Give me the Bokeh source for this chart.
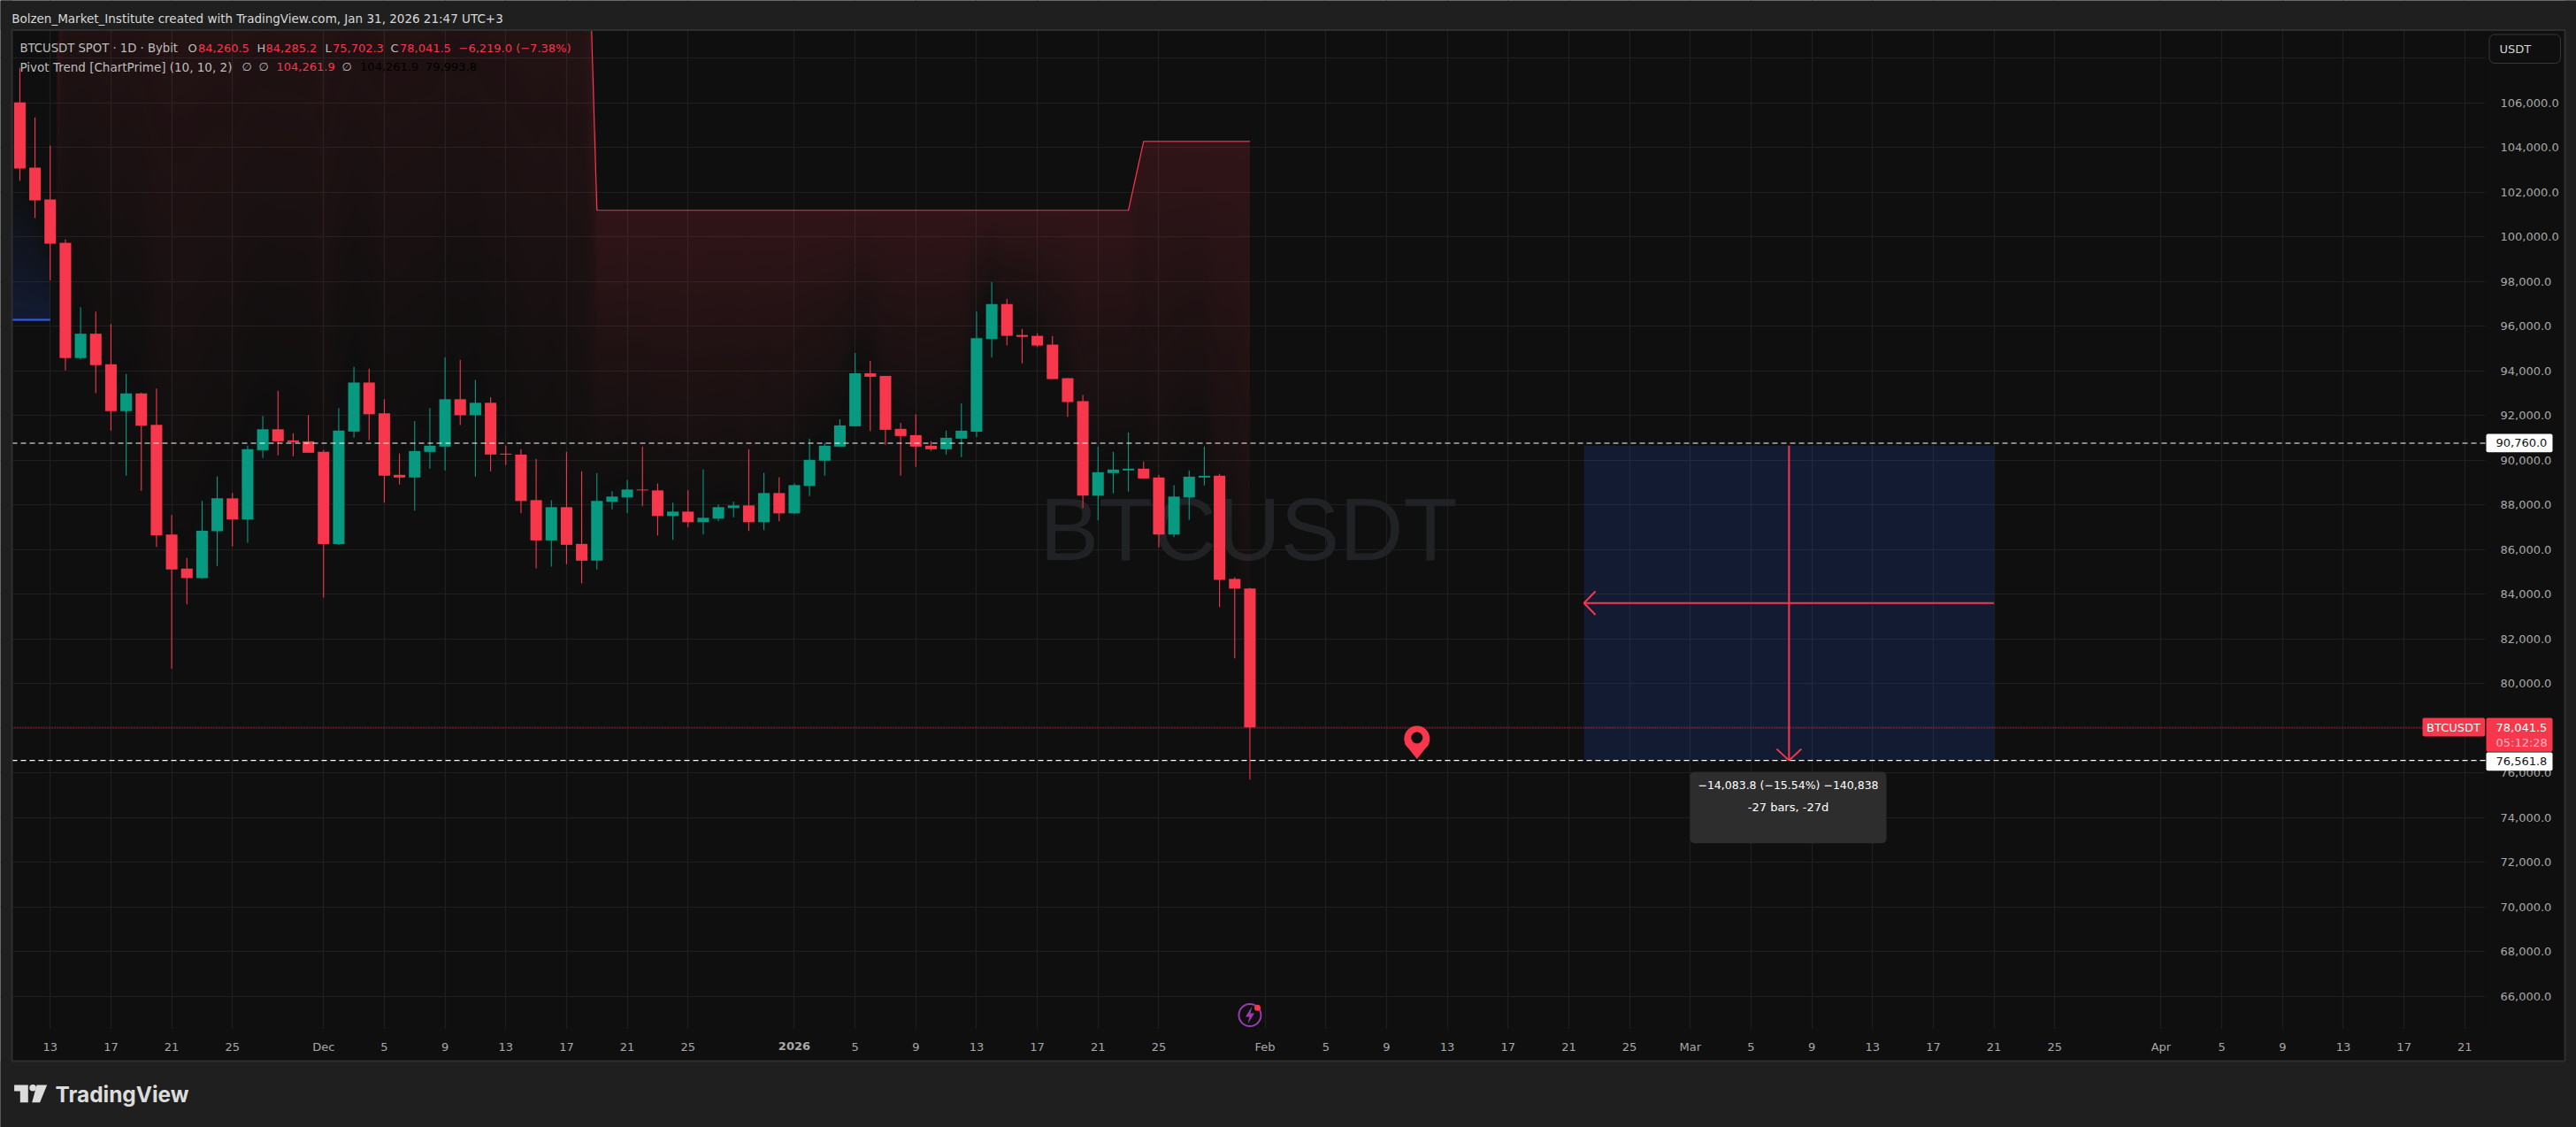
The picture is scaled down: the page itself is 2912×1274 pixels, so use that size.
import numpy as np
from bokeh.embed import file_html
from bokeh.resources import INLINE
from bokeh.plotting import figure
from bokeh.models import (Range1d, FixedTicker, NumeralTickFormatter, Label, BoxAnnotation,
                          PolyAnnotation, ColumnDataSource, LinearAxis)

# ---------- data ----------
first_day = -2   # day index of the first candle, 0 = Nov 13
opens = [106013,103087,101664,99726,94567,95657,94290,92194,92985,91578,86670,85143,84725,86817,88290,87342,90448,91381,90883,90843,
         90369,86250,91278,93473,92092,89341,89222,90369,90606,92725,92013,92566,90290,90250,88210,86408,87895,86250,85500,88132,
         88330,88685,88646,87499,87697,87222,87380,87855,87974,87222,88527,87618,88844,89974,90606,91516,93889,93770,91400,91120,
         90646,90488,90962,91278,95420,96985,95600,95563,95170,93668,92640,88408,89420,89540,89618,89222,86670,88330,89222,89300,84685,84260.5]
highs = [107555,105341,104076,99884,96843,96646,96092,93855,93025,93199,87539,85617,88171,89278,88527,90646,91974,93104,91199,92013,
         90448,92329,94171,94092,92725,90290,91750,92329,94606,94487,93592,92803,90646,90488,90053,88210,90369,89500,89420,88606,
         89120,90606,88962,88092,88646,89578,88013,88132,90488,89437,89239,88962,90962,90764,91830,94800,94443,93770,91672,92053,
         90843,91318,92540,96646,97974,97222,95880,95680,95563,93668,92915,90606,90369,91240,89934,89340,88883,89540,90606,89380,84764,84285.2]
lows = [102494,100833,98039,94013,94500,92998,91325,89301,88629,86115,80669,83539,84685,85262,86132,86290,90092,90211,90171,90330,
        83855,86210,91002,90883,88092,88906,87736,89618,89539,91566,89262,89500,89776,87618,85160,85240,85340,84488,85105,87804,
        87618,87934,86630,86430,86985,86670,87262,87447,86827,86867,87262,87580,88395,89300,90606,91516,91301,90685,89300,89697,
        90409,90250,90132,91040,94590,95130,94330,95050,93628,91934,87855,87300,88510,88590,89180,86100,86550,87320,88870,83420,81127,75702.3]
closes = [103048,101624,99687,94567,95657,94250,92194,92985,91539,86629,85104,84725,86843,88290,87342,90488,91381,90843,90804,90330,
          86250,91318,93473,92053,89301,89222,90408,90646,92725,92013,92566,90250,90250,88171,86408,87895,86211,85500,88171,88369,
          88685,88646,87499,87697,87222,87420,87895,87974,87222,88527,87618,88883,90013,90646,91555,93889,93730,91358,91080,90606,
          90488,91000,91318,95460,96985,95563,95520,95130,93628,92600,88408,89460,89578,89618,89180,86670,88369,89260,89300,84646,84250,78041.5]

# Pivot trend levels, by candle
trend_levels = [96281]*3 + [124000]*35 + [101180]*36 + [104261.9]*8

price_ticks = list(range(66000, 110000, 2000))
hidden_price_ticks = [108000]
time_ticks = [0,4,8,12,18,22,26,30,34,38,42,49,53,57,61,65,69,73,80,84,88,92,96,100,104,108,112,116,120,124,128,132,139,143,147,151,155,159]
time_labels = ["13","17","21","25","Dec","5","9","13","17","21","25","2026","5","9","13","17","21","25","Feb","5","9","13","17","21","25","Mar","5","9","13","17","21","25","Apr","5","9","13","17","21"]

line_high = 90760.0
line_low = 76561.8
range_top = 90645.6
range_left_day, range_right_day = 101, 128
pin_day = 90
last_close = 78041.5

RED = "#F7374B"; GREEN = "#089981"; BLUE = "#2962FF"
PANE = "#0f0f0f"; OUTER = "#1f1f1f"; GRID = "#1f1f1f"; EDGE = "#2e2e2e"; AXTXT = "#a8a8a8"; LEG = "#bdbdbd"
FONT = "DejaVu Sans"

# ---------- pixel <-> data helpers (image pixels) ----------
PX0, PXD = 56.25, 17.167
PY0, PYK = 873.3, 0.02526
def X(px): return (px - PX0) / PXD
def Y(py): return 76000 + (PY0 - py) / PYK

PW, PH = 2912, 1274
p = figure(width=PW, height=PH, output_backend="svg", toolbar_location=None,
           x_range=Range1d(X(0), X(PW)), y_range=Range1d(Y(PH), Y(0)),
           x_axis_location=None, y_axis_location=None,
           min_border_left=0, min_border_top=0, min_border_right=0, min_border_bottom=0)
p.background_fill_color = PANE
p.border_fill_color = PANE
p.outline_line_color = None

p.grid.grid_line_color = GRID
p.xgrid.ticker = FixedTicker(ticks=time_ticks)
p.ygrid.ticker = FixedTicker(ticks=price_ticks)
p.xgrid.grid_line_width = 1.2
p.ygrid.grid_line_width = 1.2

def bar(l, r, t, b, color):
    p.quad(left=[X(l)], right=[X(r)], top=[Y(t)], bottom=[Y(b)], fill_color=color, line_color=None)

# panels of the two axes hide the grid there
bar(2809, 2899, 33, 1199, PANE)
bar(13, 2899, 1163, 1199, PANE)

# axes inside the canvas
yax = LinearAxis(fixed_location=X(2809))
yax.ticker = FixedTicker(ticks=price_ticks)
yax.formatter = NumeralTickFormatter(format="0,0.0")
yax.major_label_overrides = {t: " " for t in hidden_price_ticks}
yax.axis_line_color = None
yax.major_tick_line_color = None
yax.minor_tick_line_color = None
yax.major_label_standoff = 11
yax.major_label_text_color = AXTXT
yax.major_label_text_font = FONT
yax.major_label_text_font_size = "13px"
p.add_layout(yax, "right")

xax = LinearAxis(fixed_location=Y(1163))
xax.ticker = FixedTicker(ticks=time_ticks)
xax.major_label_overrides = {t: (" " if l == "2026" else l) for t, l in zip(time_ticks, time_labels)}
xax.axis_line_color = None
xax.major_tick_line_color = None
xax.minor_tick_line_color = None
xax.major_label_standoff = 6
xax.major_label_text_color = AXTXT
xax.major_label_text_font = FONT
xax.major_label_text_font_size = "13px"
p.add_layout(xax, "below")

LV = "annotation"
def lab(px, py, text, color=LEG, size="13px", align="left", style="normal", font=FONT, level=LV):
    p.add_layout(Label(x=X(px), y=Y(py), text=text, text_color=color, text_font_size=size,
                       text_align=align, text_baseline="middle", text_font_style=style,
                       text_font=font, level=level))

def box(l, r, t, b, fill, line=None, radius=0, alpha=1.0, width=1):
    p.add_layout(BoxAnnotation(left=X(l), right=X(r), top=Y(t), bottom=Y(b), fill_color=fill, fill_alpha=alpha,
                               line_color=line, line_alpha=1.0, line_width=width, border_radius=radius, level=LV))

# bold year label on the time axis
p.add_layout(Label(x=time_ticks[time_labels.index("2026")], y=Y(1181.7), text="2026", text_color=AXTXT,
                   text_font_size="13px", text_font=FONT, text_font_style="bold",
                   text_align="center", text_baseline="middle", level=LV))

# watermark
lab(1411, 597, "BTCUSDT", color="#212225", size="100px", align="center", font="Liberation Sans", level="underlay")

# ---------- pivot trend gradient fills ----------
days = np.arange(first_day, first_day + len(closes), dtype=float)
closes_a = np.array(closes, dtype=float)
levels_a = np.array(trend_levels, dtype=float)

def gradient(day_from, day_to, rgb, peak, upward):
    W, H = 700, 565
    y_lo, y_hi = Y(1163), Y(34)
    cols = np.linspace(day_from, day_to, W)
    rows = np.linspace(y_lo, y_hi, H)
    c = np.interp(cols, days, closes_a)
    l = np.interp(cols, days, levels_a)
    cc, ll = c[None, :], l[None, :]
    rr = rows[:, None]
    frac = (rr - cc) / (ll - cc)
    frac = np.clip(frac, 0, 1)
    if upward:
        mask = (rr >= cc) & (rr <= ll)
    else:
        mask = (rr <= cc) & (rr >= ll)
    alpha = np.where(mask, frac * peak * 255, 0).astype(np.uint32)
    img = (alpha << 24) | (rgb[2] << 16) | (rgb[1] << 8) | rgb[0]
    p.image_rgba(image=[img.astype(np.uint32)], x=day_from, y=y_lo, dw=day_to - day_from, dh=y_hi - y_lo)

gradient(0.45, days[-1], (247, 55, 75), 0.15, True)
gradient(X(13), 0.0, (41, 98, 255), 0.15, False)

# trend lines
red_part = first_day + np.arange(3, len(closes))
p.line(red_part, levels_a[3:], line_color=RED, line_width=1.2)
p.line([X(13), 0], [trend_levels[0], trend_levels[2]], line_color=BLUE, line_width=2)

# ---------- measuring tool rectangle ----------
range_mid = (range_top + line_low) / 2
range_center = (range_left_day + range_right_day) / 2
p.quad(left=[range_left_day], right=[range_right_day], top=[range_top], bottom=[line_low],
       fill_color=BLUE, fill_alpha=0.15, line_color=None)

# ---------- candles ----------
is_up = closes_a >= np.array(opens)
src = ColumnDataSource(dict(
    x=days, o=opens, h=highs, l=lows, c=closes,
    top=np.maximum(opens, closes), bot=np.minimum(opens, closes),
    color=[GREEN if u else RED for u in is_up]))
p.segment(x0="x", x1="x", y0="l", y1="h", line_color="color", line_width=1.1, source=src)
p.vbar(x="x", width=0.76, top="top", bottom="bot", fill_color="color", line_color=None, source=src)

# arrows of the tool
p.segment(x0=[range_right_day], x1=[range_left_day], y0=[range_mid], y1=[range_mid], line_color=RED, line_width=2)
p.segment(x0=[range_center], x1=[range_center], y0=[range_top], y1=[line_low], line_color=RED, line_width=2)
hx = X(1803) - range_left_day
hy = Y(668) - range_mid
p.multi_line([[range_left_day + hx, range_left_day, range_left_day + hx]],
             [[range_mid + hy, range_mid, range_mid - hy]], line_color=RED, line_width=2)
ax = 14 / PXD
ay = 13 / PYK
p.multi_line([[range_center - ax, range_center, range_center + ax]],
             [[line_low + ay, line_low, line_low + ay]], line_color=RED, line_width=2)

# ---------- pin marker ----------
pin_x = PX0 + pin_day * PXD
p.patch([X(pin_x - 14), X(pin_x + 14), X(pin_x)], [Y(840), Y(840), Y(857.5)], fill_color=RED, line_color=None)
p.scatter([pin_day], [Y(834.5)], size=29, marker="circle", fill_color=RED, line_color=None)
p.scatter([pin_day], [Y(833.5)], size=13, marker="circle", fill_color=PANE, line_color=None)

# ---------- lightning icon ----------
icon_day = days[-1]
p.scatter([icon_day], [Y(1147)], size=25, marker="circle", fill_alpha=0, line_color="#9C3BB5", line_width=2)
ix = PX0 + icon_day * PXD
bolt = [(2.5, -10), (-5, 2), (-0.5, 2), (-2.5, 10), (5, -2), (0.5, -2)]
p.patch([X(ix + a) for a, _ in bolt], [Y(1147 + b) for _, b in bolt], fill_color="#9C3BB5", line_color=None)
p.scatter([X(1421)], [Y(1138.7)], size=7, marker="circle", fill_color=RED, line_color=None)

# ---------- horizontal price lines ----------
pane_l, pane_r = X(13), X(2809)
p.segment(x0=[pane_l, pane_l], x1=[pane_r, pane_r], y0=[line_high, line_low], y1=[line_high, line_low],
          line_color="#ffffff", line_width=1.1, line_dash="6 4")
p.segment(x0=[pane_l], x1=[pane_r], y0=[last_close], y1=[last_close], line_color=RED, line_width=1, line_dash="1 2")

# ---------- outer strips and frame ----------
bar(0, PW, 0, 33, OUTER)
bar(0, 13, 0, PH, OUTER)
bar(2899, PW, 0, PH, OUTER)
bar(0, PW, 1199, PH, OUTER)
p.quad(left=[X(13)], right=[X(2899)], top=[Y(33.5)], bottom=[Y(1199)], fill_alpha=0, line_color=EDGE, line_width=2)

# ---------- price tags ----------
box(2810, 2885, 490, 510.7, "#ffffff", radius=2)
lab(2821, 500.3, "90,760.0", color="#131313")
box(2810, 2885, 850, 870.7, "#ffffff", radius=2)
lab(2821, 860.3, "76,561.8", color="#131313")
box(2810, 2885, 811, 849.3, RED, radius=2)
lab(2821, 821.5, "78,041.5", color="#ffffff")
lab(2821, 838.7, "05:12:28", color="#fdbcc4")
box(2738, 2808.5, 811, 832, RED, radius=2)
lab(2773, 821.5, "BTCUSDT", color="#ffffff", align="center")

# USDT button
box(2813.5, 2894, 38.5, 71, PANE, line="#383838", radius=6)
lab(2825, 55, "USDT", color="#d4d4d4")

# ---------- tool tooltip ----------
box(1910, 2132, 872, 952.7, "#2d2d2d", radius=5)
lab(2021, 886.7, "\u221214,083.8 (\u221215.54%) \u2212140,838", color="#ffffff", align="center", size="12.5px")
lab(2021, 912, "-27 bars, -27d", color="#ffffff", align="center")

# ---------- header & legend ----------
lab(12.7, 20, "Bolzen_Market_Institute created with TradingView.com, Jan 31, 2026 21:47 UTC+3", color="#d8d8d8", size="13.5px")
lab(22, 53.7, "BTCUSDT SPOT \u00b7 1D \u00b7 Bybit", size="13.2px")
for px, t, c in [(212, "O", LEG), (223.5, "84,260.5", RED), (290, "H", LEG), (300, "84,285.2", RED),
                 (367, "L", LEG), (375.5, "75,702.3", RED), (441, "C", LEG), (451.5, "78,041.5", RED),
                 (518, "\u22126,219.0 (\u22127.38%)", RED)]:
    lab(px, 53.7, t, color=c)
lab(22, 75, "Pivot Trend [ChartPrime] (10, 10, 2)", size="13.5px")
for px, t, c in [(273, "\u2205", LEG), (292, "\u2205", LEG), (312, "104,261.9", RED), (386, "\u2205", LEG),
                 (406.6, "104,261.9", "#000000"), (480.6, "79,993.8", "#000000")]:
    lab(px, 75, t, color=c)

# ---------- TradingView logo ----------
LOGO = "#dcdcdc"
def poly(pts):
    p.add_layout(PolyAnnotation(xs=[X(a) for a, _ in pts], ys=[Y(b) for _, b in pts], fill_color=LOGO, fill_alpha=1,
                                line_color=None, level=LV))
poly([(15.6, 1226), (31.3, 1226), (31.3, 1245.7), (22.3, 1245.7), (22.3, 1233), (15.6, 1233)])
poly([(41, 1226), (52.7, 1226), (44.6, 1245.7), (35.7, 1245.7)])
box(32.8, 40.4, 1225.5, 1233, LOGO, radius=4)
lab(62, 1236.5, "TradingView", color=LOGO, size="24.4px", style="bold", font="Inter")

open("out.html", "w").write(file_html(p, INLINE))
